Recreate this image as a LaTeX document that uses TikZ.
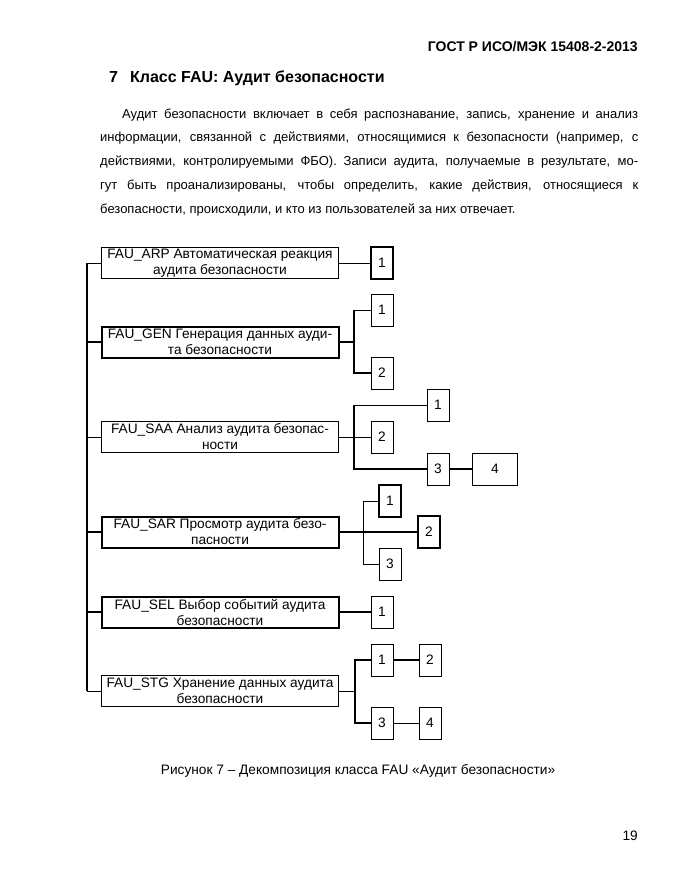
\documentclass[tikz,border=0pt]{standalone}
\usepackage{fontspec}
\setmainfont{Liberation Sans}
\begin{document}
\begin{tikzpicture}[x=1pt,y=-1pt,
  txt/.style={inner sep=0pt,font=\fontsize{13.7}{16}\selectfont},
  ptxt/.style={inner sep=0pt,font=\fontsize{13}{16}\selectfont},
  big/.style={draw,txt,minimum width=237,minimum height=31,align=center},
  sq/.style={draw,txt,minimum width=22,minimum height=32},
  thinl/.style={line width=0.9pt},
  boldl/.style={line width=2pt}]
\useasboundingbox[fill=white] (0,0) rectangle (680,880);
% page text
\path (638,52) node[txt,anchor=base east,font=\fontsize{14}{16}\selectfont\bfseries] (head) {ГОСТ Р ИСО/МЭК 15408-2-2013};
\path (109,83) node[txt,anchor=base west,font=\fontsize{16}{19}\selectfont\bfseries] (title) {7\hspace{12pt}Класс FAU: Аудит безопасности};
\path (122,118) node[ptxt,anchor=base west] (par1) {\makebox[516pt][s]{Аудит безопасности включает в себя распознавание, запись, хранение и анализ}};
\path (100,142) node[ptxt,anchor=base west] (par2) {\makebox[538pt][s]{информации, связанной с действиями, относящимися к безопасности (например, с}};
\path (100,165) node[ptxt,anchor=base west] (par3) {\makebox[538pt][s]{действиями, контролируемыми ФБО). Записи аудита, получаемые в результате, мо-}};
\path (100,189) node[ptxt,anchor=base west] (par4) {\makebox[538pt][s]{гут быть проанализированы, чтобы определить, какие действия, относящиеся к}};
\path (100,213) node[ptxt,anchor=base west] (par5) {безопасности, происходили, и кто из пользователей за них отвечает.};
% main boxes
\path (220,263) node[big,thinl] (nodeARP) {FAU\_ARP Автоматическая реакция\\аудита безопасности};
\path (220,342) node[big,boldl] (nodeGEN) {FAU\_GEN Генерация данных ауди-\\та безопасности};
\path (220,437) node[big,thinl] (nodeSAA) {FAU\_SAA Анализ аудита безопас-\\ности};
\path (220,532) node[big,boldl] (nodeSAR) {FAU\_SAR Просмотр аудита безо-\\пасности};
\path (220,612) node[big,boldl] (nodeSEL) {FAU\_SEL Выбор событий аудита\\безопасности};
\path (220,691) node[big,thinl] (nodeSTG) {FAU\_STG Хранение данных аудита\\безопасности};
% small boxes
\path (382,263) node[sq,boldl] (nodeARPa) {1};
\path (382,310) node[sq,thinl] (nodeGENa) {1};
\path (382,373) node[sq,thinl] (nodeGENb) {2};
\path (438,405) node[sq,thinl] (nodeSAAa) {1};
\path (382,437) node[sq,thinl] (nodeSAAb) {2};
\path (438,469) node[sq,thinl] (nodeSAAc) {3};
\path (495,469) node[sq,thinl,minimum width=45] (nodeSAAd) {4};
\path (390,501) node[sq,boldl] (nodeSARa) {1};
\path (429,532) node[sq,boldl] (nodeSARb) {2};
\path (390,564) node[sq,thinl] (nodeSARc) {3};
\path (382,612) node[sq,thinl] (nodeSELa) {1};
\path (382,660) node[sq,thinl] (nodeSTGa) {1};
\path (430,660) node[sq,thinl] (nodeSTGb) {2};
\path (382,723) node[sq,thinl] (nodeSTGc) {3};
\path (430,723) node[sq,thinl] (nodeSTGd) {4};
% trunk and junctions
\coordinate (trunk) at (87,0);
\coordinate (jGEN) at (354,0);
\coordinate (jSAA) at (354,0);
\coordinate (jSAR) at (363,0);
\coordinate (jSTG) at (355,0);
\draw[boldl] (nodeARP.west -| trunk) -- (nodeSTG.west -| trunk);
\draw[thinl] (nodeARP.west -| trunk) -- (nodeARP.west);
\draw[boldl] (nodeGEN.west -| trunk) -- (nodeGEN.west);
\draw[thinl] (nodeSAA.west -| trunk) -- (nodeSAA.west);
\draw[boldl] (nodeSAR.west -| trunk) -- (nodeSAR.west);
\draw[boldl] (nodeSEL.west -| trunk) -- (nodeSEL.west);
\draw[thinl] (nodeSTG.west -| trunk) -- (nodeSTG.west);
% FAU_ARP
\draw[thinl] (nodeARP) -- (nodeARPa);
% FAU_GEN
\draw[boldl] (nodeGEN.east) -- (nodeGEN.east -| jGEN);
\draw[boldl] (nodeGENa.west -| jGEN) -- (nodeGENb.west -| jGEN) -- (nodeGENb.west);
\draw[thinl] (nodeGENa.west -| jGEN) -- (nodeGENa.west);
% FAU_SAA
\draw[thinl] (nodeSAA.east) -- (nodeSAAb.west);
\draw[boldl] (nodeSAAa.west -| jSAA) -- (nodeSAAc.west -| jSAA) -- (nodeSAAc.west);
\draw[thinl] (nodeSAAa.west -| jSAA) -- (nodeSAAa.west);
\draw[boldl] (nodeSAAc) -- (nodeSAAd);
% FAU_SAR
\draw[boldl] (nodeSAR.east) -- (nodeSARb.west);
\draw[thinl] (nodeSARa.west) -| (nodeSARc.west -| jSAR) -- (nodeSARc.west);
% FAU_SEL
\draw[boldl] (nodeSEL) -- (nodeSELa);
% FAU_STG
\draw[thinl] (nodeSTG.east) -- (nodeSTG.east -| jSTG);
\draw[boldl] (nodeSTGa.west) -| (nodeSTGc.west -| jSTG) -- (nodeSTGc.west);
\draw[boldl] (nodeSTGa) -- (nodeSTGb);
\draw[thinl] (nodeSTGc) -- (nodeSTGd);
% caption and page number
\path (358,774) node[txt,anchor=base] (caption) {Рисунок 7 – Декомпозиция класса FAU «Аудит безопасности»};
\path (638,840) node[txt,anchor=base east] (pagenum) {19};
\end{tikzpicture}
\end{document}
